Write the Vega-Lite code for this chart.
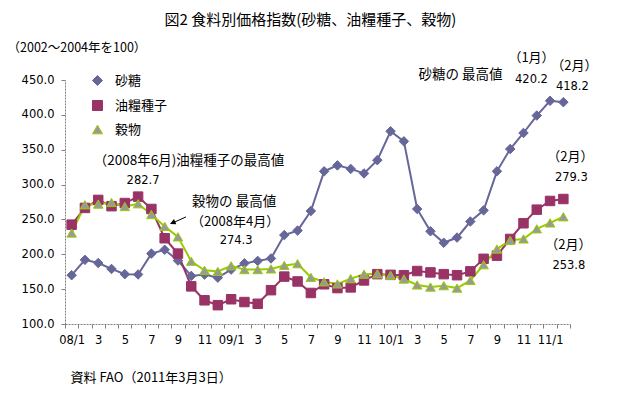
{
  "$schema": "https://vega.github.io/schema/vega-lite/v6.json",
  "autosize": {"type": "none"},
  "width": 505,
  "height": 244,
  "padding": {"left": 65, "top": 80, "right": 56, "bottom": 71},
  "background": "white",
  "title": {"text": "図2  食料別価格指数(砂糖、油糧種子、穀物)", "font": "Noto Sans CJK JP", "fontSize": 15, "fontWeight": "normal", "color": "black", "anchor": "middle", "offset": 13, "dx": -7},
  "config": {
    "view": {"stroke": null},
    "legend": {"orient": "none", "legendX": 26, "legendY": -6, "symbolSize": 100, "symbolStrokeWidth": 1, "labelOffset": 11, "rowPadding": 10, "labelFont": "Noto Sans CJK JP", "labelFontSize": 13, "labelColor": "black", "title": null, "padding": 0}
  },
  "layer": [
    {
      "data": {"values": [
        {"m":"08/1","s":"砂糖","v":170},{"m":"08/2","s":"砂糖","v":192},{"m":"08/3","s":"砂糖","v":187.5},{"m":"08/4","s":"砂糖","v":179},{"m":"08/5","s":"砂糖","v":171.5},{"m":"08/6","s":"砂糖","v":171},{"m":"08/7","s":"砂糖","v":201},{"m":"08/8","s":"砂糖","v":206.5},{"m":"08/9","s":"砂糖","v":191},{"m":"08/10","s":"砂糖","v":169},{"m":"08/11","s":"砂糖","v":171},{"m":"08/12","s":"砂糖","v":166.5},
        {"m":"09/1","s":"砂糖","v":178},{"m":"09/2","s":"砂糖","v":187},{"m":"09/3","s":"砂糖","v":190.5},{"m":"09/4","s":"砂糖","v":194},{"m":"09/5","s":"砂糖","v":227.5},{"m":"09/6","s":"砂糖","v":234},{"m":"09/7","s":"砂糖","v":262},{"m":"09/8","s":"砂糖","v":319},{"m":"09/9","s":"砂糖","v":327.5},{"m":"09/10","s":"砂糖","v":322.5},{"m":"09/11","s":"砂糖","v":316},{"m":"09/12","s":"砂糖","v":335},
        {"m":"10/1","s":"砂糖","v":376.5},{"m":"10/2","s":"砂糖","v":362},{"m":"10/3","s":"砂糖","v":265},{"m":"10/4","s":"砂糖","v":233},{"m":"10/5","s":"砂糖","v":216.5},{"m":"10/6","s":"砂糖","v":224},{"m":"10/7","s":"砂糖","v":247},{"m":"10/8","s":"砂糖","v":263},{"m":"10/9","s":"砂糖","v":319},{"m":"10/10","s":"砂糖","v":351},{"m":"10/11","s":"砂糖","v":374},{"m":"10/12","s":"砂糖","v":399},
        {"m":"11/1","s":"砂糖","v":420.2},{"m":"11/2","s":"砂糖","v":418.2},
        {"m":"08/1","s":"油糧種子","v":242.5},{"m":"08/2","s":"油糧種子","v":266.5},{"m":"08/3","s":"油糧種子","v":278},{"m":"08/4","s":"油糧種子","v":269},{"m":"08/5","s":"油糧種子","v":273.5},{"m":"08/6","s":"油糧種子","v":282.7},{"m":"08/7","s":"油糧種子","v":265},{"m":"08/8","s":"油糧種子","v":223},{"m":"08/9","s":"油糧種子","v":201},{"m":"08/10","s":"油糧種子","v":154},{"m":"08/11","s":"油糧種子","v":134},{"m":"08/12","s":"油糧種子","v":127},
        {"m":"09/1","s":"油糧種子","v":135.5},{"m":"09/2","s":"油糧種子","v":131.5},{"m":"09/3","s":"油糧種子","v":129},{"m":"09/4","s":"油糧種子","v":148.5},{"m":"09/5","s":"油糧種子","v":168},{"m":"09/6","s":"油糧種子","v":161},{"m":"09/7","s":"油糧種子","v":144.5},{"m":"09/8","s":"油糧種子","v":157},{"m":"09/9","s":"油糧種子","v":151.5},{"m":"09/10","s":"油糧種子","v":152.5},{"m":"09/11","s":"油糧種子","v":162.5},{"m":"09/12","s":"油糧種子","v":171.5},
        {"m":"10/1","s":"油糧種子","v":170.5},{"m":"10/2","s":"油糧種子","v":170},{"m":"10/3","s":"油糧種子","v":176},{"m":"10/4","s":"油糧種子","v":174},{"m":"10/5","s":"油糧種子","v":171.5},{"m":"10/6","s":"油糧種子","v":170},{"m":"10/7","s":"油糧種子","v":175.5},{"m":"10/8","s":"油糧種子","v":193.5},{"m":"10/9","s":"油糧種子","v":198},{"m":"10/10","s":"油糧種子","v":222},{"m":"10/11","s":"油糧種子","v":244.5},{"m":"10/12","s":"油糧種子","v":264},
        {"m":"11/1","s":"油糧種子","v":276.5},{"m":"11/2","s":"油糧種子","v":279.3},
        {"m":"08/1","s":"穀物","v":230.5},{"m":"08/2","s":"穀物","v":271},{"m":"08/3","s":"穀物","v":272},{"m":"08/4","s":"穀物","v":274.3},{"m":"08/5","s":"穀物","v":268.5},{"m":"08/6","s":"穀物","v":272.5},{"m":"08/7","s":"穀物","v":257},{"m":"08/8","s":"穀物","v":240},{"m":"08/9","s":"穀物","v":225},{"m":"08/10","s":"穀物","v":190},{"m":"08/11","s":"穀物","v":177},{"m":"08/12","s":"穀物","v":175.5},
        {"m":"09/1","s":"穀物","v":183.5},{"m":"09/2","s":"穀物","v":178},{"m":"09/3","s":"穀物","v":178},{"m":"09/4","s":"穀物","v":179},{"m":"09/5","s":"穀物","v":184},{"m":"09/6","s":"穀物","v":186.5},{"m":"09/7","s":"穀物","v":167},{"m":"09/8","s":"穀物","v":160.5},{"m":"09/9","s":"穀物","v":157.5},{"m":"09/10","s":"穀物","v":165},{"m":"09/11","s":"穀物","v":171.5},{"m":"09/12","s":"穀物","v":172},
        {"m":"10/1","s":"穀物","v":170},{"m":"10/2","s":"穀物","v":164.5},{"m":"10/3","s":"穀物","v":156},{"m":"10/4","s":"穀物","v":153},{"m":"10/5","s":"穀物","v":155},{"m":"10/6","s":"穀物","v":151.5},{"m":"10/7","s":"穀物","v":162.5},{"m":"10/8","s":"穀物","v":185},{"m":"10/9","s":"穀物","v":207.5},{"m":"10/10","s":"穀物","v":220},{"m":"10/11","s":"穀物","v":222},{"m":"10/12","s":"穀物","v":236.5},
        {"m":"11/1","s":"穀物","v":245},{"m":"11/2","s":"穀物","v":253.8}
      ]},
      "encoding": {
        "x": {
          "field": "m", "type": "ordinal", "bandPosition": 0.5,
          "scale": {"type": "band", "paddingInner": 0, "paddingOuter": 0, "domain": ["08/1","08/2","08/3","08/4","08/5","08/6","08/7","08/8","08/9","08/10","08/11","08/12","09/1","09/2","09/3","09/4","09/5","09/6","09/7","09/8","09/9","09/10","09/11","09/12","10/1","10/2","10/3","10/4","10/5","10/6","10/7","10/8","10/9","10/10","10/11","10/12","11/1","11/2"]},
          "axis": {
            "title": "資料  FAO（2011年3月3日）", "titleFont": "Noto Sans CJK JP", "titleFontSize": 13, "titleFontWeight": "normal", "titleColor": "black",
            "titleAnchor": "start", "titleAlign": "left", "titleBaseline": "middle", "titleX": 5, "titleY": 53,
            "labelExpr": "indexof(['1','3','5','7','9','11'], split(datum.value,'/')[1]) < 0 ? '' : (split(datum.value,'/')[1] === '1' ? datum.value : split(datum.value,'/')[1])",
            "labelAngle": 0, "labelFont": "DejaVu Sans", "labelFontSize": 11.5, "labelColor": "black", "labelPadding": 6, "labelOverlap": false,
            "tickBand": "extent", "tickSize": 4, "tickColor": "#808080", "domainColor": "#808080", "domainDash": [2, 1], "grid": false
          }
        },
        "y": {
          "field": "v", "type": "quantitative",
          "scale": {"domain": [100, 450], "nice": false, "zero": false},
          "axis": {
            "title": "（2002～2004年を100）", "titleAngle": 0, "titleAlign": "left", "titleBaseline": "middle", "titleX": -58, "titleY": -33,
            "titleFont": "Noto Sans CJK JP", "titleFontSize": 12.5, "titleFontWeight": "normal", "titleColor": "black",
            "values": [100, 150, 200, 250, 300, 350, 400, 450], "tickCount": 8, "format": ".1f", "labelOverlap": false,
            "labelFont": "DejaVu Sans", "labelFontSize": 11.5, "labelColor": "black", "labelPadding": 7,
            "tickSize": 4, "tickColor": "#808080", "domainColor": "#808080", "domainDash": [2, 1], "grid": false
          }
        }
      },
      "layer": [
        {
          "mark": {"type": "line", "strokeWidth": 2},
          "encoding": {
            "stroke": {"field": "s", "type": "nominal", "scale": {"domain": ["砂糖","油糧種子","穀物"], "range": ["#666699","#993366","#99CC00"]}}
          }
        },
        {
          "mark": {"type": "point", "filled": true, "size": 90, "strokeWidth": 1, "opacity": 1},
          "encoding": {
            "stroke": {"field": "s", "type": "nominal"},
            "fill": {"field": "s", "type": "nominal", "scale": {"domain": ["砂糖","油糧種子","穀物"], "range": ["#666699","#993366","#999999"]}},
            "shape": {"field": "s", "type": "nominal", "scale": {"domain": ["砂糖","油糧種子","穀物"], "range": ["diamond","square","triangle-up"]}}
          }
        }
      ]
    },
    {
      "data": {"values": [{}]},
      "mark": {"type": "text", "font": "Noto Sans CJK JP", "fontSize": 13.5, "color": "black", "align": "center", "baseline": "middle", "dx": 11},
      "encoding": {"x": {"datum": "08/9", "type": "ordinal", "bandPosition": 0.5}, "y": {"datum": 333.4, "type": "quantitative"}, "text": {"value": "（2008年6月)油糧種子の最高値"}}
    },
    {
      "data": {"values": [{}]},
      "mark": {"type": "text", "font": "DejaVu Sans", "fontSize": 11.5, "color": "black", "align": "center", "baseline": "middle", "dx": 5},
      "encoding": {"x": {"datum": "08/6", "type": "ordinal", "bandPosition": 0.5}, "y": {"datum": 304.7, "type": "quantitative"}, "text": {"value": "282.7"}}
    },
    {
      "data": {"values": [{}]},
      "mark": {"type": "text", "font": "Noto Sans CJK JP", "fontSize": 13.5, "color": "black", "align": "center", "baseline": "middle", "dx": 3},
      "encoding": {"x": {"datum": "09/1", "type": "ordinal", "bandPosition": 0.5}, "y": {"datum": 274.5, "type": "quantitative"}, "text": {"value": "穀物の 最高値"}}
    },
    {
      "data": {"values": [{}]},
      "mark": {"type": "text", "font": "Noto Sans CJK JP", "fontSize": 13, "color": "black", "align": "center", "baseline": "middle", "dx": 4},
      "encoding": {"x": {"datum": "09/1", "type": "ordinal", "bandPosition": 0.5}, "y": {"datum": 245.8, "type": "quantitative"}, "text": {"value": "（2008年4月）"}}
    },
    {
      "data": {"values": [{}]},
      "mark": {"type": "text", "font": "DejaVu Sans", "fontSize": 11.5, "color": "black", "align": "center", "baseline": "middle", "dx": 5},
      "encoding": {"x": {"datum": "09/1", "type": "ordinal", "bandPosition": 0.5}, "y": {"datum": 218.6, "type": "quantitative"}, "text": {"value": "274.3"}}
    },
    {
      "data": {"values": [{}]},
      "mark": {"type": "rule", "color": "black", "strokeWidth": 1, "xOffset": 6.5, "x2Offset": 8},
      "encoding": {"x": {"datum": "08/8", "type": "ordinal", "bandPosition": 0.5}, "x2": {"datum": "08/9", "bandPosition": 0.5}, "y": {"datum": 244, "type": "quantitative"}, "y2": {"datum": 253.6}}
    },
    {
      "data": {"values": [{}]},
      "mark": {"type": "point", "filled": true, "color": "black", "size": 50, "shape": "M-0.8,1.6L0,0L0.8,1.6Z", "angle": 246, "xOffset": 5.3, "opacity": 1},
      "encoding": {"x": {"datum": "08/8", "type": "ordinal", "bandPosition": 0.5}, "y": {"datum": 243.5, "type": "quantitative"}}
    },
    {
      "data": {"values": [{}]},
      "mark": {"type": "text", "font": "Noto Sans CJK JP", "fontSize": 13.5, "color": "black", "align": "center", "baseline": "middle", "dx": 3.5},
      "encoding": {"x": {"datum": "10/6", "type": "ordinal", "bandPosition": 0.5}, "y": {"datum": 457.8, "type": "quantitative"}, "text": {"value": "砂糖の 最高値"}}
    },
    {
      "data": {"values": [{}]},
      "mark": {"type": "text", "font": "Noto Sans CJK JP", "fontSize": 13, "color": "black", "align": "center", "baseline": "middle", "dx": 8},
      "encoding": {"x": {"datum": "10/11", "type": "ordinal", "bandPosition": 0.5}, "y": {"datum": 481.8, "type": "quantitative"}, "text": {"value": "（1月）"}}
    },
    {
      "data": {"values": [{}]},
      "mark": {"type": "text", "font": "DejaVu Sans", "fontSize": 11.5, "color": "black", "align": "center", "baseline": "middle", "dx": 8},
      "encoding": {"x": {"datum": "10/11", "type": "ordinal", "bandPosition": 0.5}, "y": {"datum": 450.6, "type": "quantitative"}, "text": {"value": "420.2"}}
    },
    {
      "data": {"values": [{}]},
      "mark": {"type": "text", "font": "Noto Sans CJK JP", "fontSize": 13, "color": "black", "align": "center", "baseline": "middle", "dx": 11},
      "encoding": {"x": {"datum": "11/2", "type": "ordinal", "bandPosition": 0.5}, "y": {"datum": 470.7, "type": "quantitative"}, "text": {"value": "（2月）"}}
    },
    {
      "data": {"values": [{}]},
      "mark": {"type": "text", "font": "DejaVu Sans", "fontSize": 11.5, "color": "black", "align": "center", "baseline": "middle", "dx": 9},
      "encoding": {"x": {"datum": "11/2", "type": "ordinal", "bandPosition": 0.5}, "y": {"datum": 439.6, "type": "quantitative"}, "text": {"value": "418.2"}}
    },
    {
      "data": {"values": [{}]},
      "mark": {"type": "text", "font": "Noto Sans CJK JP", "fontSize": 13, "color": "black", "align": "center", "baseline": "middle", "dx": 7},
      "encoding": {"x": {"datum": "11/2", "type": "ordinal", "bandPosition": 0.5}, "y": {"datum": 339.7, "type": "quantitative"}, "text": {"value": "（2月）"}}
    },
    {
      "data": {"values": [{}]},
      "mark": {"type": "text", "font": "DejaVu Sans", "fontSize": 11.5, "color": "black", "align": "center", "baseline": "middle", "dx": 8},
      "encoding": {"x": {"datum": "11/2", "type": "ordinal", "bandPosition": 0.5}, "y": {"datum": 309.6, "type": "quantitative"}, "text": {"value": "279.3"}}
    },
    {
      "data": {"values": [{}]},
      "mark": {"type": "text", "font": "Noto Sans CJK JP", "fontSize": 13, "color": "black", "align": "center", "baseline": "middle", "dx": 5},
      "encoding": {"x": {"datum": "11/2", "type": "ordinal", "bandPosition": 0.5}, "y": {"datum": 213.8, "type": "quantitative"}, "text": {"value": "（2月）"}}
    },
    {
      "data": {"values": [{}]},
      "mark": {"type": "text", "font": "DejaVu Sans", "fontSize": 11.5, "color": "black", "align": "center", "baseline": "middle", "dx": 5.5},
      "encoding": {"x": {"datum": "11/2", "type": "ordinal", "bandPosition": 0.5}, "y": {"datum": 183.7, "type": "quantitative"}, "text": {"value": "253.8"}}
    }
  ]
}
